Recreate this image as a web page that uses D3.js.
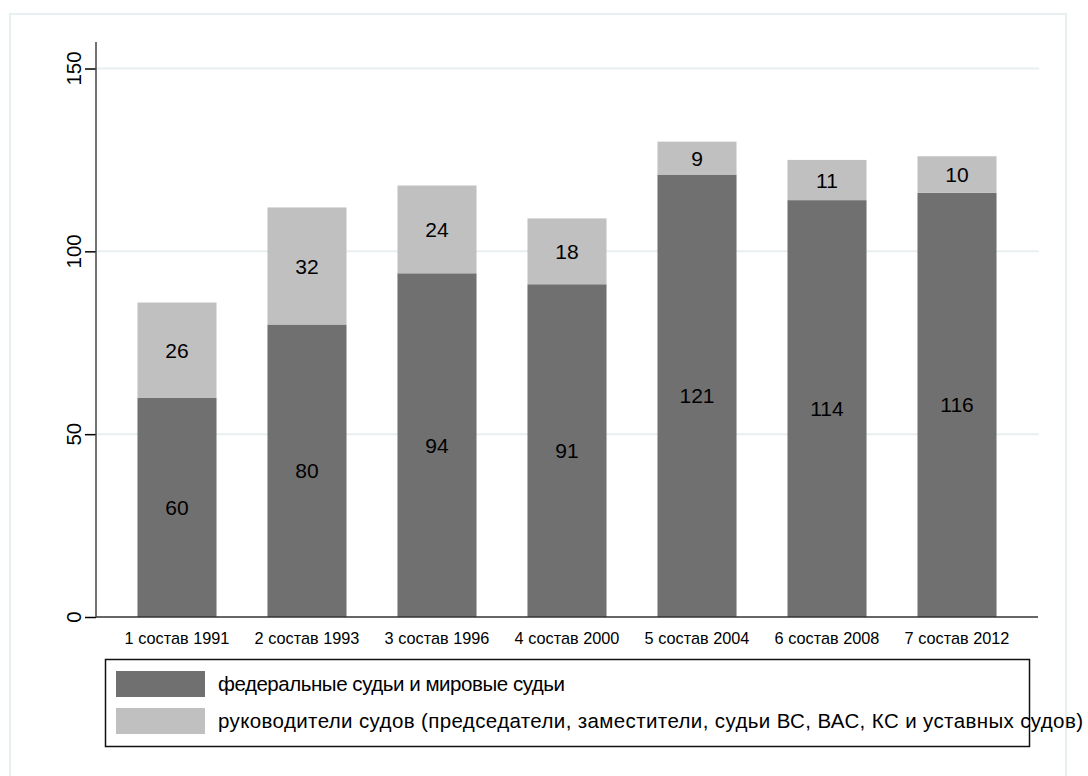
<!DOCTYPE html>
<html>
<head>
<meta charset="utf-8">
<script src="https://cdn.jsdelivr.net/npm/d3@7"></script>
<style>
  html, body { margin: 0; padding: 0; background: #ffffff; }
  svg { display: block; font-family: "Liberation Sans", Arial, sans-serif; }
</style>
</head>
<body>
<svg id="chart" width="1088" height="776"></svg>
<script>
const categories = ["1 состав 1991", "2 состав 1993", "3 состав 1996", "4 состав 2000", "5 состав 2004", "6 состав 2008", "7 состав 2012"];
const federalJudges = [60, 80, 94, 91, 121, 114, 116];
const courtHeads = [26, 32, 24, 18, 9, 11, 10];
const yTicks = [0, 50, 100, 150];
const seriesNames = ["федеральные судьи и мировые судьи", "руководители судов (председатели, заместители, судьи ВС, ВАС, КС и уставных судов)"];
const seriesColors = ["#707070", "#c0c0c0"];

const svg = d3.select("#chart");

// outer frame
svg.append("rect").attr("x", 10).attr("y", 14).attr("width", 1056).attr("height", 780)
  .attr("fill", "#ffffff").attr("stroke", "#e8eff1").attr("stroke-width", 2);

const plot = { left: 96, right: 1038, top: 42, bottom: 617 };

const x = d3.scaleBand().domain(categories).range([plot.left, plot.right])
  .paddingInner(0.392).paddingOuter(0.319);
const y = d3.scaleLinear().domain([0, 150]).range([617, 68.5]);

// gridlines
svg.append("g").selectAll("line").data(yTicks.filter(d => d > 0)).join("line")
  .attr("x1", plot.left + 1).attr("x2", plot.right + 1)
  .attr("y1", d => y(d)).attr("y2", d => y(d))
  .attr("stroke", "#e8eff1").attr("stroke-width", 2);

// stacked data
const rows = categories.map((c, i) => ({ cat: c, a: federalJudges[i], b: courtHeads[i] }));
const stack = d3.stack().keys(["a", "b"])(rows);

const g = svg.append("g");
stack.forEach((layer, li) => {
  g.append("g").selectAll("rect").data(layer).join("rect")
    .attr("x", d => x(d.data.cat))
    .attr("width", x.bandwidth())
    .attr("y", d => y(d[1]))
    .attr("height", d => y(d[0]) - y(d[1]))
    .attr("fill", seriesColors[li]);
  g.append("g").selectAll("text").data(layer).join("text")
    .attr("x", d => x(d.data.cat) + x.bandwidth() / 2)
    .attr("y", d => (y(d[0]) + y(d[1])) / 2)
    .attr("dy", "0.36em")
    .attr("text-anchor", "middle")
    .attr("font-size", 21)
    .attr("fill", "#000")
    .text(d => d[1] - d[0]);
});

// y axis
const yAxis = svg.append("g").attr("transform", `translate(${plot.left},0)`)
  .call(d3.axisLeft(y).tickValues(yTicks).tickSize(11).tickFormat(""));
yAxis.select(".domain").remove();
yAxis.selectAll(".tick line").attr("stroke", "#000").attr("stroke-width", 1.5);
svg.append("line").attr("x1", plot.left).attr("x2", plot.left)
  .attr("y1", plot.top).attr("y2", plot.bottom)
  .attr("stroke", "#444").attr("stroke-width", 1.5);
svg.append("g").selectAll("text").data(yTicks).join("text")
  .attr("transform", d => `translate(81,${y(d)}) rotate(-90)`)
  .attr("text-anchor", "middle")
  .attr("font-size", 20.5)
  .attr("fill", "#000")
  .text(d => d);

// x axis
const xAxis = svg.append("g").attr("transform", `translate(0,${plot.bottom})`)
  .call(d3.axisBottom(x).tickSize(0).tickPadding(15));
xAxis.select(".domain").attr("stroke", "#333").attr("stroke-width", 1.5)
  .attr("d", `M${plot.left},0H${plot.right}`);
xAxis.selectAll(".tick text").attr("font-size", 16.3).attr("fill", "#000")
  .attr("font-family", "Liberation Sans, Arial, sans-serif");

// legend
const legendLengths = [347, 865];
const leg = svg.append("g");
leg.append("rect").attr("x", 105.5).attr("y", 659.5).attr("width", 924).attr("height", 87)
  .attr("fill", "none").attr("stroke", "#111").attr("stroke-width", 1.5);
const legRows = leg.selectAll("g.item").data(seriesNames).join("g").attr("class", "item")
  .attr("transform", (d, i) => `translate(0,${i * 37})`);
legRows.append("rect").attr("x", 116).attr("y", 671).attr("width", 89).attr("height", 26)
  .attr("fill", (d, i) => seriesColors[i]);
legRows.append("text").attr("x", 218).attr("y", 684).attr("dy", "0.36em")
  .attr("font-size", 20.5).attr("fill", "#000")
  .attr("textLength", (d, i) => legendLengths[i])
  .attr("lengthAdjust", "spacing")
  .text(d => d);
</script>
</body>
</html>
